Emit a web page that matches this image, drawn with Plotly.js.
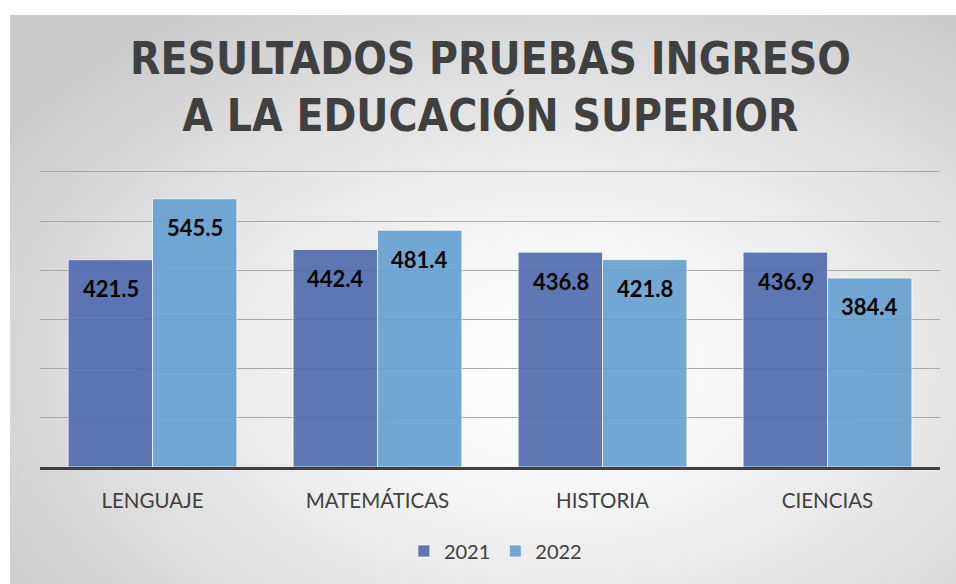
<!DOCTYPE html>
<html>
<head>
<meta charset="utf-8">
<script src="https://cdn.plot.ly/plotly-3.0.1.min.js"></script>
<style>
  html, body { margin: 0; padding: 0; background: #ffffff; width: 956px; height: 584px; overflow: hidden; }
  #bg { position: absolute; left: 10px; top: 15px; width: 946px; height: 569px;
        background: radial-gradient(ellipse 70% 75% at 58% 62%, #ffffff 0%, #f6f6f6 30%, #e2e2e2 65%, #cbcbcb 100%); }
  #chart { position: absolute; left: 0; top: 0; width: 956px; height: 584px; }
</style>
</head>
<body>
<div id="bg"></div>
<div id="chart"></div>
<script>
const categories = ["LENGUAJE", "MATEMÁTICAS", "HISTORIA", "CIENCIAS"];
const seriesNames = ["2021", "2022"];
const values2021 = [421.5, 442.4, 436.8, 436.9];
const values2022 = [545.5, 481.4, 421.8, 384.4];
const titleLines = ["RESULTADOS PRUEBAS INGRESO", "A LA EDUCACIÓN SUPERIOR"];

const colors = ["rgba(78,105,173,0.9)", "rgba(101,158,207,0.9)"];
const allSeries = [values2021, values2022];

const traces = allSeries.map((vals, i) => ({
  type: "bar",
  name: seriesNames[i],
  x: categories,
  y: vals,
  marker: { color: colors[i], line: { color: "rgba(255,255,255,0.7)", width: 1 } },
  hoverinfo: "none"
}));

const shifts = [-42, 42];
const annotations = [];
allSeries.forEach((vals, i) => {
  vals.forEach((v, j) => {
    annotations.push({
      x: categories[j], y: v, xref: "x", yref: "y",
      text: v.toFixed(1), showarrow: false,
      xshift: shifts[i], yshift: -29, yanchor: "middle",
      font: { family: "Lato", size: 22, color: "#000000", weight: "bold" }
    });
  });
});

const layout = {
  width: 956, height: 584,
  paper_bgcolor: "rgba(0,0,0,0)",
  plot_bgcolor: "rgba(0,0,0,0)",
  margin: { l: 40, r: 16, t: 169, b: 117 },
  barmode: "group",
  bargap: 0.25,
  bargroupgap: 0,
  title: {
    text: titleLines.join("<br>"),
    x: 0.513, xanchor: "center",
    y: 1 - 74 / 584, yref: "container", yanchor: "middle",
    font: { family: "DejaVu Sans Condensed", size: 44, color: "#404040", weight: "bold" }
  },
  xaxis: {
    showline: true, linecolor: "#404040", linewidth: 3,
    ticks: "outside", ticklen: 13, tickcolor: "rgba(0,0,0,0)",
    tickfont: { family: "Lato", size: 20.5, color: "#404040" },
    showgrid: false
  },
  yaxis: {
    range: [0, 606], dtick: 100, tick0: 0,
    showticklabels: false, showgrid: true, gridcolor: "#a8a8a8", gridwidth: 1,
    zeroline: false, showline: false, ticks: ""
  },
  showlegend: true,
  legend: {
    orientation: "h", x: 0.506, xanchor: "center",
    y: 1 - 551 / 584, yref: "container", yanchor: "middle",
    font: { family: "Lato", size: 20, color: "#404040" },
    bgcolor: "rgba(0,0,0,0)"
  },
  annotations: annotations
};

Plotly.newPlot("chart", traces, layout, { staticPlot: true, displayModeBar: false });
</script>
</body>
</html>
